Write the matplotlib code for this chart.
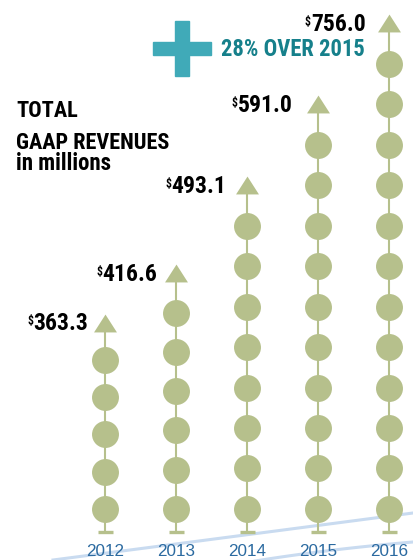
import matplotlib
matplotlib.use("Agg")
import matplotlib.pyplot as plt
from matplotlib import font_manager
from matplotlib.patches import Rectangle
from matplotlib.path import Path
import numpy as np

# data
years = ["2012", "2013", "2014", "2015", "2016"]
revenues = [363.3, 416.6, 493.1, 591.0, 756.0]
dot_counts = [5, 6, 8, 10, 12]
growth_text = "28% OVER 2015"

# style
W, H = 413, 560
GREEN = "#B6C08C"
BLUE_YEAR = "#2B6AA0"
TEAL_TEXT = "#16808B"
TEAL_PLUS = "#40AAB8"
LINE_BLUE = "#C9DBF0"
dot_gap = [0.92, 0.97, 1.0, 1.0, 1.0]
label_gap = [5, 7, 9, 14, 12]  # px between label and triangle
first_dot = 0.57


def pick_condensed():
    fonts = font_manager.fontManager.ttflist
    names = set(f.name for f in fonts)
    for n in ["Liberation Sans Narrow", "Roboto Condensed", "Open Sans Condensed",
              "DejaVu Sans Condensed", "Noto Sans Condensed"]:
        if n in names:
            return n, "normal"
    for f in fonts:
        if "Narrow" in f.name or "Condensed" in f.name:
            return f.name, "normal"
    for f in fonts:
        if f.stretch in ("condensed", "semi-condensed", "extra-condensed") \
                and f.weight in ("bold", 700):
            return f.name, f.stretch
    return "Roboto", "normal"


cond_name, cond_stretch = pick_condensed()
COND = dict(family=[cond_name, "DejaVu Sans"], fontstretch=cond_stretch,
            fontweight="bold")

fig = plt.figure(figsize=(W / 100, H / 100), dpi=100)
ax = fig.add_axes([0, 0, 1, 1])
ax.set_xlim(-1.479, 4.338)
ax.set_ylim(-0.69, 13.14)
ax.axis("off")


def fx(px):
    return px / W


def fy(py):
    return 1 - py / H


# background swooshes
for pts in ([(53, 560), (230, 537), (413, 513)],
            [(255, 561), (330, 549), (413, 542)]):
    p = np.array(pts, dtype=float)
    t = np.linspace(0, 1, 40)
    bx = (1 - t) ** 2 * p[0, 0] + 2 * (1 - t) * t * p[1, 0] + t ** 2 * p[2, 0]
    by = (1 - t) ** 2 * p[0, 1] + 2 * (1 - t) * t * p[1, 1] + t ** 2 * p[2, 1]
    fig.lines.append(plt.Line2D(fx(bx), fy(by), color=LINE_BLUE, lw=2.2,
                                transform=fig.transFigure, zorder=-1))

tri = Path([(-1, -0.78), (1, -0.78), (0, 0.78), (-1, -0.78)],
           [Path.MOVETO, Path.LINETO, Path.LINETO, Path.CLOSEPOLY])

labels = []
for i, (yr, val, n) in enumerate(zip(years, revenues, dot_counts)):
    g = dot_gap[i]
    ys = first_dot + np.arange(n) * g
    top = first_dot + n * g
    ax.plot([i, i], [0, top], color=GREEN, lw=1.5, zorder=1)
    ax.plot([i], [0], marker="_", ms=10.8, mew=2.4, color=GREEN, zorder=1)
    ax.plot(np.full(n, i), ys, "o", ms=19.4, color=GREEN, mec="none", zorder=2)
    ax.plot([i], [top], marker=tri, ms=16.5, color=GREEN, mec="none", zorder=2)
    t = ax.annotate("%.1f" % val, xy=(i, top), xytext=(-11.5 - label_gap[i], -1),
                    textcoords="offset pixels", ha="right", va="center",
                    fontsize=17, color="black", **COND)
    labels.append(t)
    ax.annotate(yr, xy=(i, 0), xytext=(0, -19), textcoords="offset pixels",
                ha="center", va="center", fontsize=12.3, color=BLUE_YEAR,
                family=["Liberation Sans", "DejaVu Sans"])

# title
fig.text(fx(16), fy(117), "TOTAL", fontsize=16, color="black",
         va="baseline", **COND)
fig.text(fx(16), fy(149), "GAAP REVENUES", fontsize=16, color="black",
         va="baseline", **COND)
fig.text(fx(16), fy(170), "in millions", fontsize=16.5, color="black",
         va="baseline", **COND)

# growth callout
fig.text(fx(365), fy(56.5), growth_text, fontsize=16.3, color=TEAL_TEXT,
         ha="right", va="baseline", **COND)
fig.patches.append(Rectangle((fx(153), fy(55)), fx(58), 13 / H,
                             transform=fig.transFigure, color=TEAL_PLUS))
fig.patches.append(Rectangle((fx(175), fy(76)), fx(14), 55 / H,
                             transform=fig.transFigure, color=TEAL_PLUS))

# superscript dollar signs
fig.canvas.draw()
r = fig.canvas.get_renderer()
for t in labels:
    bb = t.get_window_extent(r)
    fig.text(bb.x0 / W, (bb.y1 - 3) / H, "$", fontsize=8.5, color="black",
             ha="right", va="top", **COND)

fig.savefig("out.png", dpi=100)
